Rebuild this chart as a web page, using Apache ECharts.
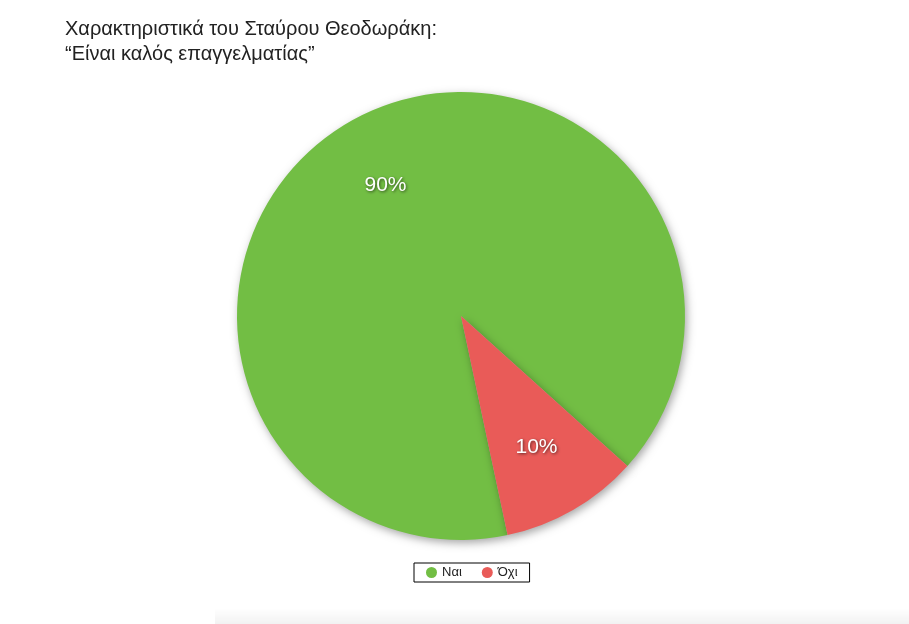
<!DOCTYPE html>
<html><head><meta charset="utf-8">
<script src="https://cdn.jsdelivr.net/npm/echarts@6/dist/echarts.min.js"></script>
<style>html,body{margin:0;padding:0;background:#fff}#c{width:909px;height:624px}</style>
</head><body><div id="c"></div>
<script>
const titleLines = ["Χαρακτηριστικά του Σταύρου Θεοδωράκη:", "“Είναι καλός επαγγελματίας”"];
const categories = ["Ναι", "Όχι"];
const values = [90, 10];
const colors = ["#72BE44", "#E95B58"];

const data = categories.map((c, i) => ({ name: c, value: values[i], itemStyle: { color: colors[i] } }));
const chart = echarts.init(document.getElementById('c'));
chart.setOption({
  animation: false,
  title: {
    text: titleLines.join('\n'),
    left: 60, top: 12,
    textStyle: { fontFamily: 'Liberation Sans, Arial', fontWeight: 'normal', fontSize: 20, color: '#222', lineHeight: 25 }
  },
  graphic: [{
    type: 'rect', left: 215, top: 608, shape: { width: 694, height: 16 }, silent: true,
    style: { fill: new echarts.graphic.LinearGradient(0, 0, 0, 1, [{ offset: 0, color: 'rgba(0,0,0,0)' }, { offset: 1, color: 'rgba(0,0,0,0.05)' }]) }
  }],
  legend: {
    top: 563, left: 414,
    data: categories,
    icon: 'circle', itemWidth: 11, itemHeight: 11, itemGap: 20,
    borderColor: '#000', borderWidth: 1, borderRadius: 0, padding: [3, 12, 3, 12],
    textStyle: { fontFamily: 'Liberation Sans, Arial', fontSize: 13, color: '#222' }
  },
  series: [{
    type: 'pie',
    center: [461, 316], radius: [0, 224],
    startAngle: 282,
    clockwise: true,
    data: data,
    label: { show: false }, labelLine: { show: false },
    itemStyle: { shadowBlur: 8, shadowColor: 'rgba(0,0,0,0.35)', shadowOffsetX: 2, shadowOffsetY: 3 },
    silent: true
  }, {
    type: 'pie',
    center: [461, 316], radius: [72, 224],
    startAngle: 282,
    clockwise: true,
    data: data.map(d => ({ name: d.name, value: d.value })),
    itemStyle: { color: 'rgba(0,0,0,0)' },
    label: {
      show: true, position: 'inside', formatter: '{d}%',
      color: '#fff', fontSize: 21, fontFamily: 'Liberation Sans, Arial',
      textShadowColor: 'rgba(0,0,0,0.6)', textShadowBlur: 3, textShadowOffsetX: 1, textShadowOffsetY: 1
    },
    labelLine: { show: false },
    silent: true
  }]
});
</script></body></html>
